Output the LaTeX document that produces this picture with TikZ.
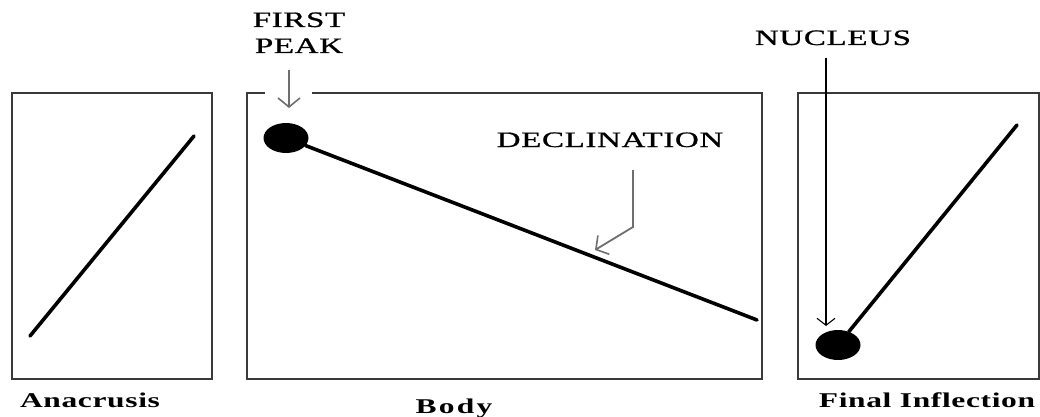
\documentclass[tikz,border=0pt]{standalone}
\usepackage{fontspec}
\usepackage{graphicx}
\usetikzlibrary{shapes.geometric,arrows.meta}
\newfontfamily\toplab[LetterSpace=2,FakeBold=0.8]{Liberation Serif}
\newfontfamily\botlab[LetterSpace=2]{Liberation Serif}
\newfontfamily\bodylab[LetterSpace=7]{Liberation Serif}
\newcommand{\sx}[1]{\scalebox{1.5}[1]{#1}}
\newcommand{\sy}[1]{\scalebox{1.5}[1]{#1}}
\definecolor{boxgray}{HTML}{3A3A3A}
\definecolor{arrgray}{HTML}{6E6E6E}
\tikzset{
  frame/.style={draw=boxgray, line width=1.5pt},
  contour/.style={draw=black, line width=3.6pt, line cap=round},
  dotnode/.style={ellipse, fill=black, inner sep=0pt},
  pointer/.style={draw=arrgray, line width=1.8pt, -{Straight Barb[length=9pt,width=22pt,line width=1.6pt]}},
  thinpointer/.style={draw=black, line width=1.2pt, -{Straight Barb[length=7pt,width=18pt,line width=1.1pt]}},
  toptext/.style={font=\toplab\fontsize{22}{26}\selectfont, anchor=base, inner sep=0pt, align=center},
  bottext/.style={font=\botlab\bfseries\fontsize{21}{24}\selectfont, anchor=base, inner sep=0pt},
}
\begin{document}
\begin{tikzpicture}[x=1pt,y=-1pt]
\useasboundingbox (0,0) rectangle (1040,417);
% boxes
\draw[frame] (12,93) rectangle (212,379);
\draw[frame] (265,93) -- (247,93) -- (247,379) -- (762,379) -- (762,93) -- (312,93);
\draw[frame] (798,93) rectangle (1039,379);
% anacrusis
\coordinate (a1) at (30,336);
\coordinate (a2) at (194,136);
\draw[contour] (a1) -- (a2);
% body
\node[dotnode, minimum width=45pt, minimum height=30pt] (peak) at (286,138) {};
\coordinate (bodyend) at (757,320);
\draw[contour] (peak) -- (bodyend);
% final inflection
\node[dotnode, minimum width=45pt, minimum height=30pt] (nuc) at (838,345) {};
\coordinate (finend) at (1017,125);
\draw[contour] (nuc) -- (finend);
% labels
\node[toptext] (fp) at (299,53) {\sx{FIRST}\\\sx{PEAK}};
\node[toptext] (decl) at (610,147) {\sx{DECLINATION}};
\node[toptext] (nucl) at (833,45) {\sx{NUCLEUS}};
\node[bottext] (ana) at (90,407) {\sy{Anacrusis}};
\node[bottext, font=\bodylab\bfseries\fontsize{21}{24}\selectfont] (body) at (454,413) {\sy{Body}};
\node[bottext] (fin) at (927,407) {\sy{Final Inflection}};
% pointers
\coordinate (fpa) at (289,70);
\coordinate (fpb) at (289,108);
\draw[pointer] (fpa) -- (fpb);
\coordinate (da) at (633,170);
\coordinate (db) at (633,227);
\coordinate (dc) at (595,250);
\draw[pointer] (da) -- (db) -- (dc);
\coordinate (na) at (826,58);
\coordinate (nb) at (826,326);
\draw[thinpointer] (na) -- (nb);
\end{tikzpicture}
\end{document}
